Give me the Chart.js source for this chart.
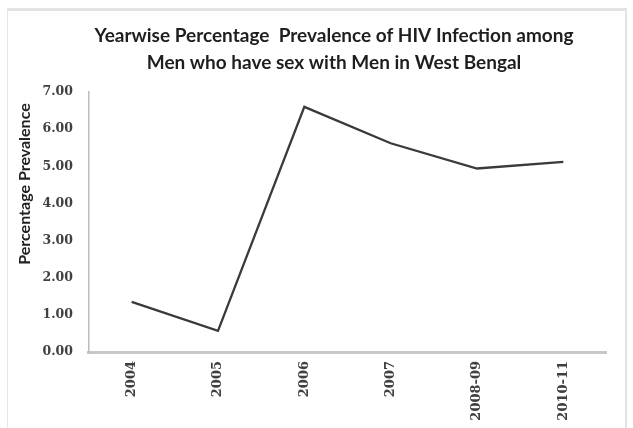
<!DOCTYPE html>
<html>
<head>
<meta charset="utf-8">
<script src="https://cdn.jsdelivr.net/npm/chart.js@4/dist/chart.umd.min.js"></script>
<style>
  html, body { margin: 0; padding: 0; background: #fff; }
  body { width: 633px; height: 428px; position: relative; overflow: hidden; }
  #frame {
    position: absolute; left: 7px; top: 8px; width: 617px; height: 440px;
    border-top: 3px solid #e3e3e3; border-left: 1px solid #e8e8e8; border-right: 2px solid #e3e3e3;
  }
  #prevChart { position: absolute; left: 0; top: 0; }
</style>
</head>
<body>
<div id="frame"></div>
<canvas id="prevChart" width="633" height="428"></canvas>
<script>
// values
const years = ['2004', '2005', '2006', '2007', '2008-09', '2010-11'];
const prevalence = [1.35, 0.57, 6.60, 5.62, 4.94, 5.12];
const yMin = 0;
const yMax = 7;
const yStep = 1;
const titleLines = ['Yearwise Percentage  Prevalence of HIV Infection among', 'Men who have sex with Men in West Bengal'];
const yTitle = 'Percentage Prevalence';

// the chart title is off centre and the y title sits above the axis middle,
// so both are drawn here instead of by the built in title options
const textPlugin = {
  id: 'texts',
  afterDraw(chart) {
    const ctx = chart.ctx;
    ctx.save();
    ctx.fillStyle = '#1e1e1e';
    ctx.textAlign = 'center';
    ctx.textBaseline = 'middle';
    ctx.font = 'bold 19px Lato';
    titleLines.forEach((line, i) => ctx.fillText(line, 334, 36 + i * 27));

    ctx.translate(25, 184);
    ctx.rotate(-Math.PI / 2);
    ctx.font = 'bold 16px Lato';
    ctx.fillStyle = '#222';
    ctx.fillText(yTitle, 0, 0);
    ctx.restore();
  }
};

const ctx = document.getElementById('prevChart').getContext('2d');
const chart = new Chart(ctx, {
  type: 'line',
  data: {
    labels: years,
    datasets: [{
      data: prevalence,
      borderColor: '#3a3a3a',
      borderWidth: 2.3,
      pointRadius: 0,
      tension: 0,
      fill: false
    }]
  },
  options: {
    responsive: false,
    animation: false,
    layout: { padding: { left: 0, right: 26.5, top: 92, bottom: 0 } },
    plugins: {
      legend: { display: false },
      tooltip: { enabled: false },
      title: { display: false }
    },
    scales: {
      x: {
        offset: true,
        grid: { display: false, drawTicks: false },
        border: { display: true, color: '#c8c8c8', width: 3 },
        ticks: {
          color: '#404040',
          font: { family: 'DejaVu Serif', size: 13, weight: 'bold' },
          minRotation: 90,
          maxRotation: 90,
          padding: 9,
          autoSkip: false
        },
        afterFit(scale) { scale.height = 76; }
      },
      y: {
        min: yMin,
        max: yMax,
        grid: { display: false, drawTicks: false },
        border: { display: true, color: '#bdbdbd', width: 1.5 },
        ticks: {
          stepSize: yStep,
          color: '#404040',
          font: { family: 'DejaVu Serif', size: 12.5, weight: 'bold' },
          padding: 15.5,
          callback: v => v.toFixed(2)
        },
        afterFit(scale) { scale.width = 88.5; }
      }
    }
  },
  plugins: [textPlugin]
});
</script>
</body>
</html>
